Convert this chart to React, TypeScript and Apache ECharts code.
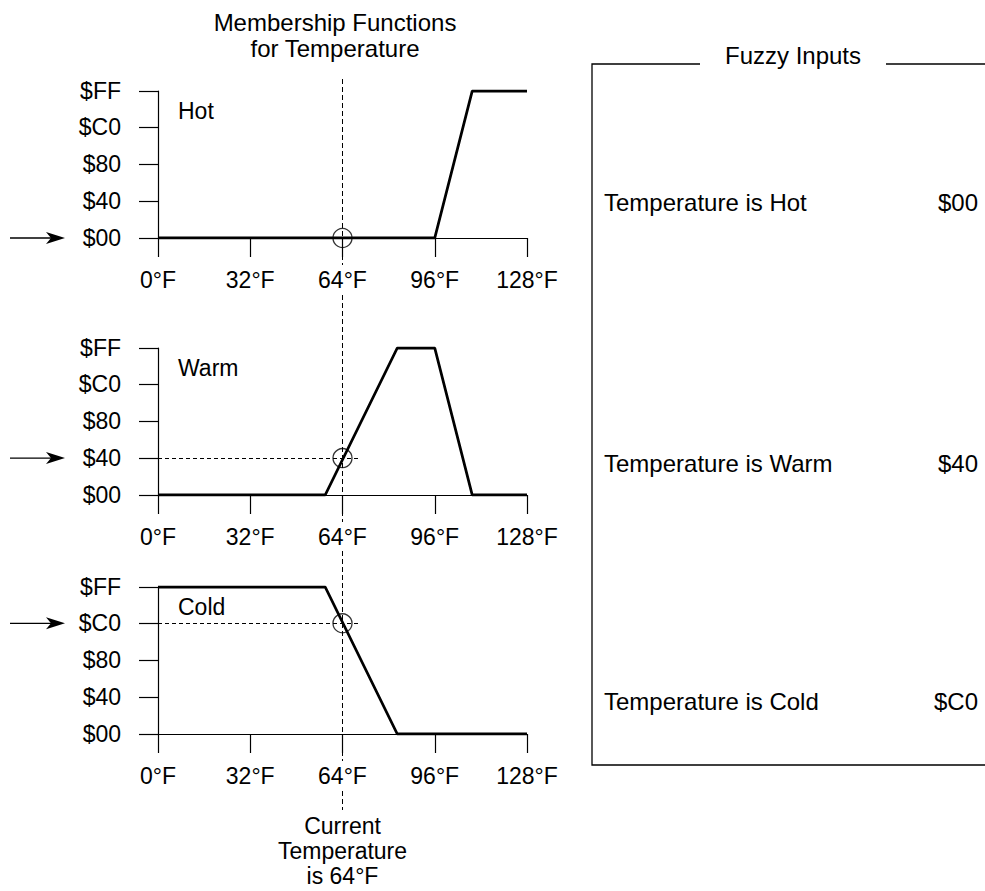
import React, { useEffect, useRef } from 'react';
import * as echarts from 'echarts';

// ---- data ----
const tempTicks = [0, 32, 64, 96, 128];
const setNames = ['Hot', 'Warm', 'Cold'];
const hotX = [0, 96, 109, 128];
const hotY = [0x00, 0x00, 0xff, 0xff];
const warmX = [0, 58, 83, 96, 109, 128];
const warmY = [0x00, 0x00, 0xff, 0xff, 0x00, 0x00];
const coldX = [0, 58, 83, 128];
const coldY = [0xff, 0xff, 0x00, 0x00];
const currentTemp = 64;
const fuzzyInputs = [0x00, 0x40, 0xc0];
const inputLabels = ['Temperature is Hot', 'Temperature is Warm', 'Temperature is Cold'];

const FONT = '"Liberation Sans", Arial, Helvetica, sans-serif';
const hex = (v: number) => '$' + Math.round(v).toString(16).toUpperCase().padStart(2, '0');

const setsX = [hotX, warmX, coldX];
const setsY = [hotY, warmY, coldY];
const gridTops = [91, 348, 587];

export default function App() {
  const ref = useRef<HTMLDivElement>(null);
  useEffect(() => {
    if (!ref.current) return;
    const chart = echarts.init(ref.current, null, { renderer: 'svg' });
    const grids = gridTops.map((t) => ({ left: 158, top: t, width: 369, height: 147 }));
    const xAxes = grids.map((_, i) => ({
      type: 'value', gridIndex: i, min: tempTicks[0], max: tempTicks[tempTicks.length - 1], interval: 32,
      axisLine: { show: true, onZero: false, lineStyle: { color: '#000', width: 1.2 } },
      axisTick: { show: true, length: 19, lineStyle: { color: '#000', width: 1.2 } },
      splitLine: { show: false },
      axisLabel: {
        formatter: (v: number) => v + '°F', color: '#000', fontSize: 23, fontFamily: FONT,
        margin: 27, backgroundColor: '#fff', padding: [3, 3],
      },
    }));
    const yAxes = grids.map((_, i) => ({
      type: 'value', gridIndex: i, min: 0, max: 255, interval: 64,
      axisLine: { show: true, lineStyle: { color: '#000', width: 1.2 } },
      axisTick: { show: true, length: 19, lineStyle: { color: '#000', width: 1.2 } },
      splitLine: { show: false },
      axisLabel: { formatter: (v: number) => hex(v), color: '#000', fontSize: 23, fontFamily: FONT, margin: 37 },
    }));
    const series: any[] = [];
    setNames.forEach((name, i) => {
      series.push({
        type: 'line', name, xAxisIndex: i, yAxisIndex: i, symbol: 'none', z: 3,
        data: setsX[i].map((x, k) => [x, setsY[i][k]]),
        lineStyle: { color: '#000', width: 2.8 },
      });
      series.push({
        type: 'scatter', xAxisIndex: i, yAxisIndex: i, z: 4,
        data: [[currentTemp, fuzzyInputs[i]]],
        symbol: 'circle', symbolSize: 19,
        itemStyle: { color: 'rgba(0,0,0,0)', borderColor: '#000', borderWidth: 1.3 },
        markLine: fuzzyInputs[i] > 0 ? {
          silent: true, symbol: 'none', label: { show: false },
          lineStyle: { color: '#000', type: [4, 3], width: 1 },
          data: [[{ coord: [0, fuzzyInputs[i]] }, { coord: [currentTemp + 6, fuzzyInputs[i]] }]],
        } : undefined,
      });
    });
    chart.setOption({
      animation: false,
      grid: grids,
      xAxis: xAxes,
      yAxis: yAxes,
      series,
    });

    const px = (i: number, x: number, y: number) => chart.convertToPixel({ gridIndex: i }, [x, y]) as number[];
    const graphic: any[] = [];
    // title
    graphic.push({ type: 'text', x: 335, y: 22, style: { text: 'Membership Functions', font: `24px ${FONT}`, fill: '#000', align: 'center', verticalAlign: 'middle' } });
    graphic.push({ type: 'text', x: 335, y: 48, style: { text: 'for Temperature', font: `24px ${FONT}`, fill: '#000', align: 'center', verticalAlign: 'middle' } });
    // vertical dashed line
    const top = px(0, currentTemp, 255);
    const bot = px(2, currentTemp, 0);
    graphic.push({ type: 'line', z: -1, shape: { x1: top[0], y1: top[1] - 12, x2: bot[0], y2: bot[1] + 76 }, style: { stroke: '#000', lineWidth: 1, lineDash: [5, 3] } });
    setNames.forEach((name, i) => {
      const p = px(i, 0, 255);
      graphic.push({ type: 'text', x: p[0] + 20, y: p[1] + 20, style: { text: name, font: `23px ${FONT}`, fill: '#000', verticalAlign: 'middle' } });
      const a = px(i, 0, fuzzyInputs[i]);
      const tip = 65, y = a[1];
      graphic.push({ type: 'line', shape: { x1: 10, y1: y, x2: tip - 10, y2: y }, style: { stroke: '#000', lineWidth: 1.3 } });
      graphic.push({ type: 'polygon', shape: { points: [[tip, y], [tip - 19, y - 6], [tip - 14, y], [tip - 19, y + 6]] }, style: { fill: '#000' } });
    });
    // current temperature note
    ['Current', 'Temperature', 'is ' + currentTemp + '°F'].forEach((t, k) => {
      graphic.push({ type: 'text', x: bot[0], y: 826 + k * 25, style: { text: t, font: `23px ${FONT}`, fill: '#000', align: 'center', verticalAlign: 'middle' } });
    });
    // right panel
    graphic.push({ type: 'polyline', shape: { points: [[700, 64], [592, 64], [592, 765], [985, 765]] }, style: { stroke: '#000', lineWidth: 1.3, fill: 'none' } });
    graphic.push({ type: 'line', shape: { x1: 886, y1: 64, x2: 985, y2: 64 }, style: { stroke: '#000', lineWidth: 1.3 } });
    graphic.push({ type: 'text', x: 793, y: 55, style: { text: 'Fuzzy Inputs', font: `24px ${FONT}`, fill: '#000', align: 'center', verticalAlign: 'middle' } });
    const rowY = [202, 463, 701];
    inputLabels.forEach((t, i) => {
      graphic.push({ type: 'text', x: 604, y: rowY[i], style: { text: t, font: `24px ${FONT}`, fill: '#000', verticalAlign: 'middle' } });
      graphic.push({ type: 'text', x: 978, y: rowY[i], style: { text: hex(fuzzyInputs[i]), font: `24px ${FONT}`, fill: '#000', align: 'right', verticalAlign: 'middle' } });
    });
    chart.setOption({ graphic });
    return () => chart.dispose();
  }, []);
  return <div ref={ref} style={{ position: 'fixed', left: 0, top: 0, width: 985, height: 891, background: '#fff' }} />;
}
